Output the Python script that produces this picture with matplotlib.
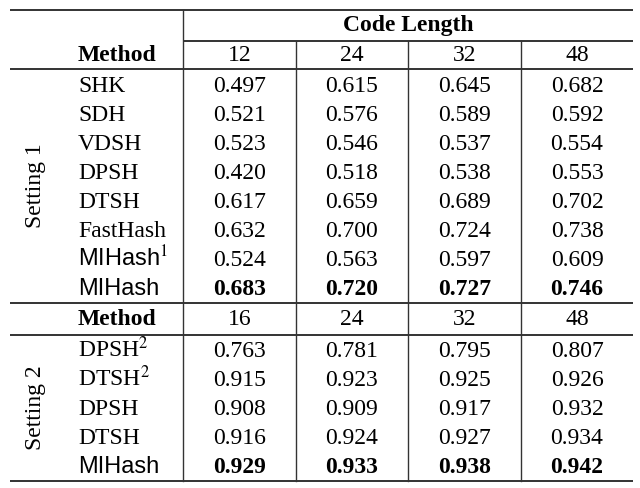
import matplotlib
matplotlib.use('Agg')
import matplotlib.pyplot as plt

plt.rcParams['mathtext.fontset'] = 'stix'

# table contents
code_len_1 = ['12', '24', '32', '48']
code_len_2 = ['16', '24', '32', '48']

methods_1 = ['SHK', 'SDH', 'VDSH', 'DPSH', 'DTSH', 'FastHash', 'MIHash', 'MIHash']
sup_1 = ['', '', '', '', '', '', '1', '']
scores_1 = [
    [0.497, 0.615, 0.645, 0.682],
    [0.521, 0.576, 0.589, 0.592],
    [0.523, 0.546, 0.537, 0.554],
    [0.420, 0.518, 0.538, 0.553],
    [0.617, 0.659, 0.689, 0.702],
    [0.632, 0.700, 0.724, 0.738],
    [0.524, 0.563, 0.597, 0.609],
    [0.683, 0.720, 0.727, 0.746],
]

methods_2 = ['DPSH', 'DTSH', 'DPSH', 'DTSH', 'MIHash']
sup_2 = ['2', '2', '', '', '']
scores_2 = [
    [0.763, 0.781, 0.795, 0.807],
    [0.915, 0.923, 0.925, 0.926],
    [0.908, 0.909, 0.917, 0.932],
    [0.916, 0.924, 0.927, 0.934],
    [0.929, 0.933, 0.938, 0.942],
]

SERIF = 'Liberation Serif'
SANS = 'Liberation Sans'
FS = 17
LC = '#333333'

fig = plt.figure(figsize=(6.4, 4.88), dpi=100)
ax = fig.add_axes([0, 0, 1, 1])
ax.set_xlim(0, 640)
ax.set_ylim(488, 0)
ax.axis('off')

x_left, x_right = 10, 633
col_edges = [183, 296, 408, 521, 633]
col_mid = [(col_edges[i] + col_edges[i + 1]) / 2 for i in range(4)]
x_method = 78
row_h = 29


def method_label(y, name, sup):
    fam = SANS if name == 'MIHash' else SERIF
    label = name + (r'$^{%s}$' % sup if sup else '')
    ax.text(x_method, y, label, fontsize=FS, family=fam, va='baseline', ha='left')


def block(y_first, methods, sups, scores):
    best = [max(col) for col in zip(*scores)]
    for i, (m, s, row) in enumerate(zip(methods, sups, scores)):
        y = y_first + i * row_h
        method_label(y, m, s)
        for j, v in enumerate(row):
            ax.text(col_mid[j], y, '%.3f' % v, fontsize=FS, family=SERIF,
                    ha='center', va='baseline',
                    fontweight='bold' if (v == best[j] and m == 'MIHash' and not s) else 'normal')


# header
ax.text(col_mid[0] / 2 + col_mid[3] / 2 + 0, 31, 'Code Length', fontsize=FS, family=SERIF,
        fontweight='bold', ha='center', va='baseline')
ax.text(x_method, 61, 'Method', fontsize=FS, family=SERIF, fontweight='bold', va='baseline')
for j, c in enumerate(code_len_1):
    ax.text(col_mid[j], 61, c, fontsize=FS, family=SERIF, ha='center', va='baseline')

block(92, methods_1, sup_1, scores_1)

ax.text(x_method, 325, 'Method', fontsize=FS, family=SERIF, fontweight='bold', va='baseline')
for j, c in enumerate(code_len_2):
    ax.text(col_mid[j], 325, c, fontsize=FS, family=SERIF, ha='center', va='baseline')

block(357, methods_2, sup_2, scores_2)

ax.text(35, 186, 'Setting 1', fontsize=FS, family=SERIF, rotation=90, ha='center', va='center')
ax.text(35, 408, 'Setting 2', fontsize=FS, family=SERIF, rotation=90, ha='center', va='center')

# rules
for y in [10, 69, 303, 335, 481]:
    ax.plot([x_left, x_right], [y, y], color=LC, lw=1.4, solid_capstyle='butt')
ax.plot([col_edges[0], x_right], [41, 41], color=LC, lw=1.4, solid_capstyle='butt')
ax.plot([col_edges[0], col_edges[0]], [10, 481], color=LC, lw=1.0)
for x in col_edges[1:4]:
    ax.plot([x, x], [41, 481], color=LC, lw=1.0)

fig.savefig('out.png', dpi=100, facecolor='white')
